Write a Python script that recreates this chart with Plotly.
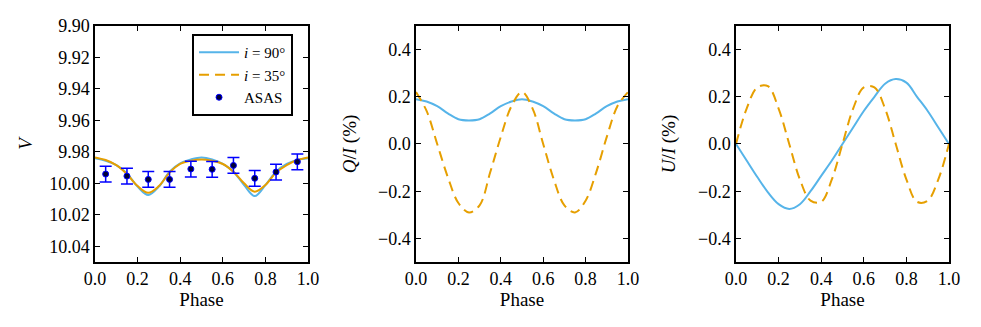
import plotly.graph_objects as go

# phase grid for the model curves
phase = [0.0, 0.05, 0.1, 0.15, 0.2, 0.25, 0.3, 0.35, 0.4, 0.45, 0.5,
         0.55, 0.6, 0.65, 0.7, 0.75, 0.8, 0.85, 0.9, 0.95, 1.0]

# V light curve, i = 90 and i = 35
v_90 = [9.9841, 9.9856, 9.9884, 9.9937, 10.0021, 10.0074, 10.0021, 9.9926, 9.9873, 9.9848, 9.9835,
        9.9848, 9.9877, 9.9926, 10.0011, 10.0081, 10.0011, 9.9926, 9.9877, 9.9852, 9.9841]
v_35 = [9.9835, 9.9852, 9.9884, 9.9941, 10.0017, 10.0060, 10.0017, 9.9932, 9.9877, 9.9856, 9.9848,
        9.9856, 9.9877, 9.9926, 10.0000, 10.0053, 10.0011, 9.9932, 9.9884, 9.9852, 9.9835]

# ASAS binned photometry
asas_phase = [0.05, 0.15, 0.25, 0.35, 0.45, 0.55, 0.65, 0.75, 0.85, 0.95]
asas_v = [9.9941, 9.9954, 9.9975, 9.9975, 9.9909, 9.9911, 9.9886, 9.9968, 9.9928, 9.9863]
asas_err = [0.005, 0.005, 0.005, 0.005, 0.005, 0.005, 0.005, 0.005, 0.005, 0.005]

# Q/I (%)
q_90 = [0.19, 0.18, 0.16, 0.13, 0.105, 0.10, 0.105, 0.13, 0.16, 0.18, 0.19,
        0.18, 0.16, 0.13, 0.105, 0.10, 0.105, 0.13, 0.16, 0.18, 0.19]
q_35 = [0.22, 0.14, 0.0, -0.14, -0.25, -0.29, -0.26, -0.12, 0.03, 0.16, 0.22,
        0.15, 0.0, -0.15, -0.26, -0.29, -0.24, -0.12, 0.03, 0.16, 0.22]

# U/I (%)
u_90 = [0.0, -0.07, -0.14, -0.205, -0.255, -0.275, -0.255, -0.2, -0.135, -0.07, 0.0,
        0.07, 0.14, 0.2, 0.255, 0.275, 0.26, 0.2, 0.14, 0.07, 0.0]
u_35 = [0.0, 0.15, 0.24, 0.245, 0.15, 0.0, -0.15, -0.24, -0.245, -0.15, 0.0,
        0.15, 0.24, 0.24, 0.15, 0.0, -0.15, -0.245, -0.24, -0.15, 0.0]

# colours
blue = '#56B4E9'
orange = '#E69F00'
font_name = '"Liberation Serif", "DejaVu Serif", serif'

fig = go.Figure()

# left panel: light curve
fig.add_trace(go.Scatter(x=phase, y=v_90, mode='lines', line=dict(color=blue, width=2, shape='spline'),
                         name='<i>i</i> = 90°', legendrank=1, xaxis='x', yaxis='y'))
fig.add_trace(go.Scatter(x=phase, y=v_35, mode='lines', line=dict(color=orange, width=2, shape='spline'),
                         showlegend=False, xaxis='x', yaxis='y'))
fig.add_trace(go.Scatter(x=asas_phase, y=asas_v, mode='markers', name='ASAS', legendrank=3,
                         marker=dict(size=6, color='#000038', line=dict(color='#0000ff', width=1)),
                         error_y=dict(type='data', array=asas_err, color='#0000ff', thickness=1.5, width=6),
                         xaxis='x', yaxis='y'))

# middle panel: Q/I
fig.add_trace(go.Scatter(x=phase, y=q_90, mode='lines', line=dict(color=blue, width=2, shape='spline'),
                         showlegend=False, xaxis='x2', yaxis='y2'))
fig.add_trace(go.Scatter(x=phase, y=q_35, mode='lines',
                         line=dict(color=orange, width=2, dash='10px,6px', shape='spline'),
                         name='<i>i</i> = 35°', legendrank=2, xaxis='x2', yaxis='y2'))

# right panel: U/I
fig.add_trace(go.Scatter(x=phase, y=u_90, mode='lines', line=dict(color=blue, width=2, shape='spline'),
                         showlegend=False, xaxis='x3', yaxis='y3'))
fig.add_trace(go.Scatter(x=phase, y=u_35, mode='lines',
                         line=dict(color=orange, width=2, dash='10px,6px', shape='spline'),
                         showlegend=False, xaxis='x3', yaxis='y3'))

# shared axis styling
axis_style = dict(showline=True, linecolor='black', linewidth=1.5, mirror='ticks',
                  ticks='inside', ticklen=5, tickwidth=1, tickcolor='black',
                  showgrid=False, zeroline=False, automargin=False,
                  tickfont=dict(family=font_name, size=18, color='black'))
title_font = dict(family=font_name, size=19, color='black')
x_style = dict(axis_style, range=[0, 1], tick0=0, dtick=0.2, tickformat='.1f',
               title=dict(text='Phase', font=title_font, standoff=2))

# the page body adds an 8px offset, domains below allow for it
ydom = [0.2232, 0.9450]

fig.update_layout(
    width=981,
    height=327,
    margin=dict(l=0, r=0, t=0, b=0),
    plot_bgcolor='white',
    paper_bgcolor='white',
    font=dict(family=font_name, size=18, color='black'),
    xaxis=dict(x_style, domain=[0.0887, 0.3058], anchor='y'),
    xaxis2=dict(x_style, domain=[0.4159, 0.6320], anchor='y2'),
    xaxis3=dict(x_style, domain=[0.7421, 0.9592], anchor='y3'),
    yaxis=dict(axis_style, domain=ydom, anchor='x', range=[10.05, 9.90], tick0=9.90, dtick=0.02,
               tickformat='.2f',
               title=dict(text='<i>V</i>', font=title_font, standoff=12)),
    yaxis2=dict(axis_style, domain=ydom, anchor='x2', range=[-0.5, 0.5], tick0=0, dtick=0.2,
                tickformat='.1f',
                title=dict(text='<i>Q</i>/<i>I</i> (%)', font=title_font, standoff=16)),
    yaxis3=dict(axis_style, domain=ydom, anchor='x3', range=[-0.5, 0.5], tick0=0, dtick=0.2,
                tickformat='.1f',
                title=dict(text='<i>U</i>/<i>I</i> (%)', font=title_font, standoff=17)),
    legend=dict(x=0.1876, y=0.9205, xanchor='left', yanchor='top',
                bgcolor='white', bordercolor='black', borderwidth=2,
                font=dict(family=font_name, size=15, color='black'),
                tracegroupgap=0, itemwidth=40),
)

fig.write_html('out.html')
